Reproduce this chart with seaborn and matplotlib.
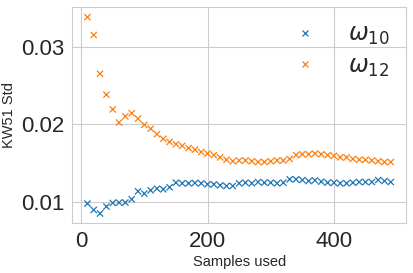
import numpy as np
import pandas as pd
import matplotlib
matplotlib.use('Agg')
import matplotlib.pyplot as plt
import seaborn as sns

# samples used (x) and the std of the two weights
samples = list(range(10, 500, 10))

std_w10 = [0.00974, 0.00892, 0.00846, 0.00936, 0.00982, 0.00987, 0.00987, 0.0103,
           0.01132, 0.01103, 0.01145, 0.01167, 0.01158, 0.01184, 0.01244, 0.01235,
           0.01235, 0.01240, 0.01235, 0.01222, 0.01222, 0.01209, 0.01201, 0.01201,
           0.01235, 0.01244, 0.01235, 0.01252, 0.01244, 0.01244, 0.01235, 0.01244,
           0.01287, 0.01287, 0.01278, 0.01265, 0.01274, 0.01257, 0.01244, 0.01244,
           0.01235, 0.01235, 0.01244, 0.01252, 0.01252, 0.01252, 0.01278, 0.01265,
           0.01252]

std_w12 = [0.0338, 0.0315, 0.0265, 0.0238, 0.0219, 0.0202, 0.0210, 0.0214,
           0.0207, 0.0199, 0.0194, 0.0187, 0.0181, 0.0177, 0.0174, 0.0172,
           0.0169, 0.0167, 0.0164, 0.0162, 0.0160, 0.0157, 0.0154, 0.0152,
           0.0153, 0.0153, 0.0152, 0.0151, 0.0151, 0.0152, 0.0153, 0.0153,
           0.0155, 0.0160, 0.0161, 0.0161, 0.0162, 0.0161, 0.0160, 0.0159,
           0.0157, 0.0157, 0.0155, 0.0154, 0.0154, 0.0153, 0.0152, 0.0151,
           0.0151]

labels = [r'$\omega_{10}$', r'$\omega_{12}$']
colors = ['#1f77b4', '#ff7f0e']

df = pd.DataFrame({
    'Samples used': samples * 2,
    'std': std_w10 + std_w12,
    'weight': [labels[0]] * len(samples) + [labels[1]] * len(samples),
})

sns.set_style('whitegrid')
plt.rcParams['font.family'] = ['Liberation Sans', 'DejaVu Sans']
plt.rcParams['mathtext.fontset'] = 'dejavusans'

fig, ax = plt.subplots(figsize=(4.13, 2.73), dpi=100)
fig.subplots_adjust(left=0.175, right=0.983, top=0.973, bottom=0.182)

sns.scatterplot(data=df, x='Samples used', y='std', hue='weight', palette=colors,
                marker='x', s=20, linewidth=0.9, ax=ax)

ax.set_xlabel('Samples used', fontsize=10.5, labelpad=2)
ax.set_ylabel('KW51 Std', fontsize=10.5)
ax.tick_params(axis='both', labelsize=16, pad=2)
ax.set_yticks([0.01, 0.02, 0.03])
ax.set_xticks([0, 200, 400])

h, l = ax.get_legend_handles_labels()
ax.legend(h, l, loc='upper right', frameon=False, fontsize=17, markerscale=0.9,
          handletextpad=0.8, labelspacing=0.35, borderaxespad=0.3)

plt.savefig('out.png', dpi=100)
plt.close()
